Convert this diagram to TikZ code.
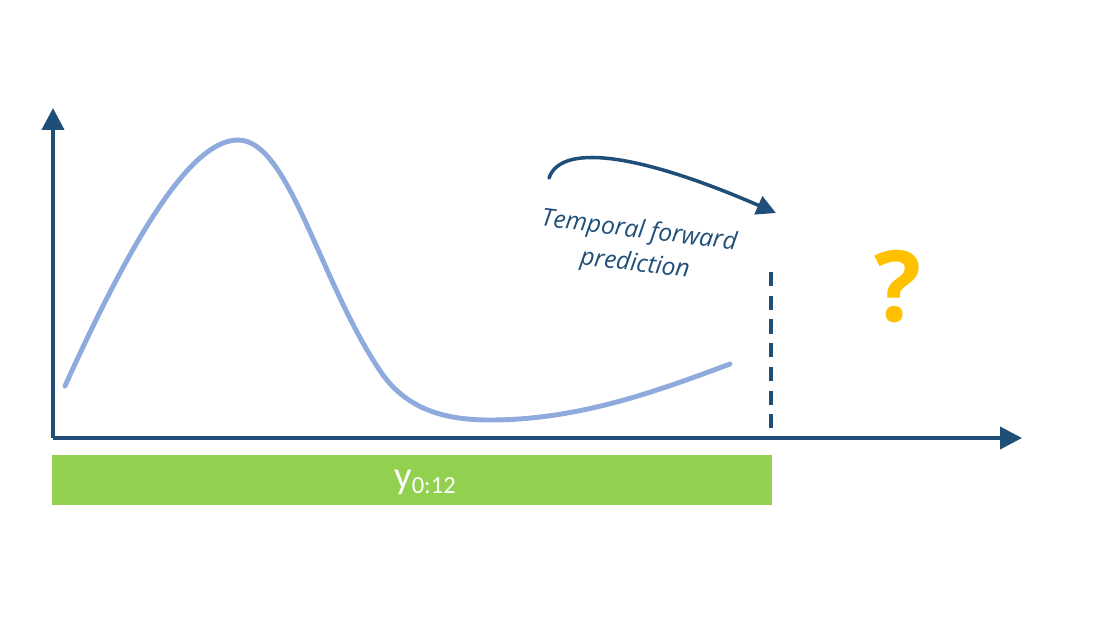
\documentclass[tikz,border=0pt]{standalone}
\usepackage{fontspec}
\setmainfont{Open Sans}
\newfontfamily\carl{Carlito}
\usetikzlibrary{arrows.meta}
\definecolor{axisblue}{HTML}{1F4E79}
\definecolor{curveblue}{HTML}{8FAADC}
\definecolor{bargreen}{HTML}{92D050}
\definecolor{qyellow}{HTML}{FFC000}
\tikzset{
  axisline/.style={draw=axisblue, line width=2.3pt, -{Triangle[length=12.5pt,width=12.5pt]}},
  dataline/.style={draw=curveblue, line width=2.8pt, line cap=round},
  cutline/.style={draw=axisblue, line width=2pt, dash pattern=on 8pt off 5.5pt},
  predarrow/.style={draw=axisblue, line width=2pt, line cap=round, -{Triangle[length=11pt,width=11pt]}},
  lbl/.style={text=axisblue, font=\itshape\fontsize{14}{19}\selectfont, align=center, inner sep=0pt},
}
\begin{document}
\begin{tikzpicture}[x=0.02cm, y=-0.02cm]
\useasboundingbox (0,0) rectangle (1100,627);
\coordinate (O) at (53,438);
\coordinate (ytip) at (53,108);
\coordinate (xtip) at (1022,438);
\coordinate (cs) at (549,178);
\coordinate (ce) at (776,213);
\coordinate (dtop) at (771,272);
\coordinate (dbot) at (771,432);
% green bar
\node[fill=bargreen, minimum width=720*0.02cm, minimum height=50*0.02cm, inner sep=0pt, anchor=north west] (bar) at (52,455) {};
\node[text=white, inner sep=0pt] (ylab) at (425,482) {\carl\fontsize{22}{22}\selectfont y\raisebox{-3pt}{\fontsize{14}{14}\selectfont 0:12}};
% data curve
\draw[dataline] (65,386) .. controls (140,220) and (195,140) .. (238,140)
  .. controls (290,140) and (320,285) .. (383,375)
  .. controls (410,412) and (450,420) .. (490,420)
  .. controls (580,420) and (660,390) .. (730,364);
% axes
\draw[axisline] (O) -- (ytip);
\draw[axisline] (O) -- (xtip);
% dashed cut
\draw[cutline] (dtop) -- (dbot);
% prediction arrow
\draw[predarrow] (cs) .. controls (562,140) and (650,158) .. (ce);
\node[lbl, rotate=-7] (pred) at (637,248) {Temporal forward\\prediction};
% question mark
\node[text=qyellow, font=\bfseries\fontsize{56}{56}\selectfont, inner sep=0pt] (q) at (898,287) {?};
\end{tikzpicture}
\end{document}
